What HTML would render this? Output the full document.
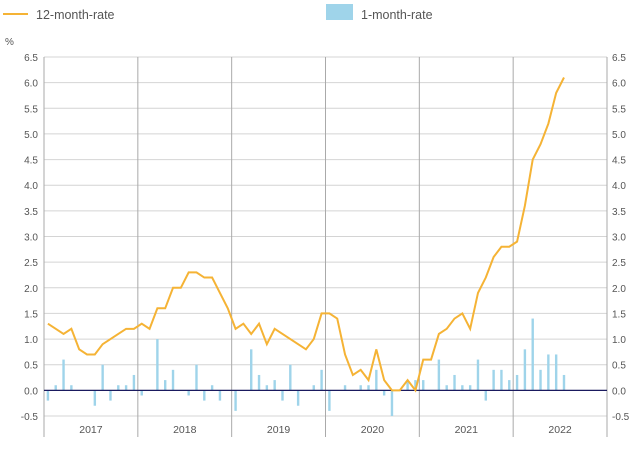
<!DOCTYPE html>
<html><head><meta charset="utf-8"><style>
body{margin:0;background:#fff;font-family:"Liberation Sans",sans-serif;}
svg text{font-family:"Liberation Sans",sans-serif;fill:#555;}
</style></head><body>
<svg width="642" height="447">
<g>
<line x1="3" y1="14" x2="28" y2="14" stroke="#f5b335" stroke-width="2"/>
<text x="36" y="19" font-size="12.5">12-month-rate</text>
<rect x="326" y="4" width="27" height="16" fill="#9fd4ea"/>
<text x="361" y="19" font-size="12.5">1-month-rate</text>
</g>
<text x="5" y="45" font-size="10">%</text>
<g id="grid"></g><g id="bars"></g><g id="line"></g><g id="axes"></g>
</svg>
<script>
const years=["2017","2018","2019","2020","2021","2022"];
const rate12=[1.3,1.2,1.1,1.2,0.8,0.7,0.7,0.9,1.0,1.1,1.2,1.2,
1.3,1.2,1.6,1.6,2.0,2.0,2.3,2.3,2.2,2.2,1.9,1.6,
1.2,1.3,1.1,1.3,0.9,1.2,1.1,1.0,0.9,0.8,1.0,1.5,
1.5,1.4,0.7,0.3,0.4,0.2,0.8,0.2,0.0,0.0,0.2,0.0,
0.6,0.6,1.1,1.2,1.4,1.5,1.2,1.9,2.2,2.6,2.8,2.8,
2.9,3.6,4.5,4.8,5.2,5.8,6.1];
const rate1=[-0.2,0.1,0.6,0.1,0,0,-0.3,0.5,-0.2,0.1,0.1,0.3,
-0.1,0,1.0,0.2,0.4,0,-0.1,0.5,-0.2,0.1,-0.2,0,
-0.4,0,0.8,0.3,0.1,0.2,-0.2,0.5,-0.3,0,0.1,0.4,
-0.4,0,0.1,0,0.1,0.1,0.4,-0.1,-0.5,0,0.2,0.2,
0.2,0,0.6,0.1,0.3,0.1,0.1,0.6,-0.2,0.4,0.4,0.2,
0.3,0.8,1.4,0.4,0.7,0.7,0.3];
const yTicks=["-0.5","0.0","0.5","1.0","1.5","2.0","2.5","3.0","3.5","4.0","4.5","5.0","5.5","6.0","6.5"];
const NS="http://www.w3.org/2000/svg";
const X0=44,X1=607,Y0=57,Y1=416,ymin=-0.5,ymax=6.5;
const mw=(X1-X0)/(years.length*12);
const xs=i=>X0+(i+0.5)*mw;
const ys=v=>Y1-(v-ymin)/(ymax-ymin)*(Y1-Y0);
function mk(p,t,a){const e=document.createElementNS(NS,t);for(const k in a)e.setAttribute(k,a[k]);document.getElementById(p).appendChild(e);return e;}
yTicks.forEach(t=>{const v=parseFloat(t),y=ys(v);
 const g=mk("grid","line",{x1:X0,x2:X1,y1:y,y2:y,stroke:"#d4d4d4","stroke-width":1});
 
 
 const l=mk("axes","text",{x:38,y:y+4,"font-size":10,"text-anchor":"end"});l.textContent=t;
 
 
 const r=mk("axes","text",{x:612,y:y+4,"font-size":10});r.textContent=t;
 
 
});
for(let k=0;k<=years.length;k++){const x=X0+k*12*mw;
 const g=mk("grid","line",{x1:x,x2:x,y1:Y0,y2:437,stroke:"#aaa","stroke-width":1});
 
 
}
years.forEach((yv,k)=>{const t=mk("axes","text",{x:X0+(k+0.5)*12*mw,y:433,"font-size":10.5,"text-anchor":"middle",fill:"#333"});t.textContent=yv;
 
 
});
rate1.forEach((v,i)=>{if(v===0)return;const y=ys(v),z=ys(0);
 const b=mk("bars","rect",{x:xs(i)-1.2,y:Math.min(y,z),width:2.4,height:Math.abs(z-y),fill:"#9fd4ea"});
 
 
});
const zl=mk("bars","line",{x1:X0,x2:X1,y1:ys(0),y2:ys(0),stroke:"#1a1a5e","stroke-width":1.3});


const pl=mk("line","polyline",{points:rate12.map((v,i)=>xs(i)+","+ys(v)).join(" "),fill:"none",stroke:"#f5b335","stroke-width":2});


</script>
</body></html>
